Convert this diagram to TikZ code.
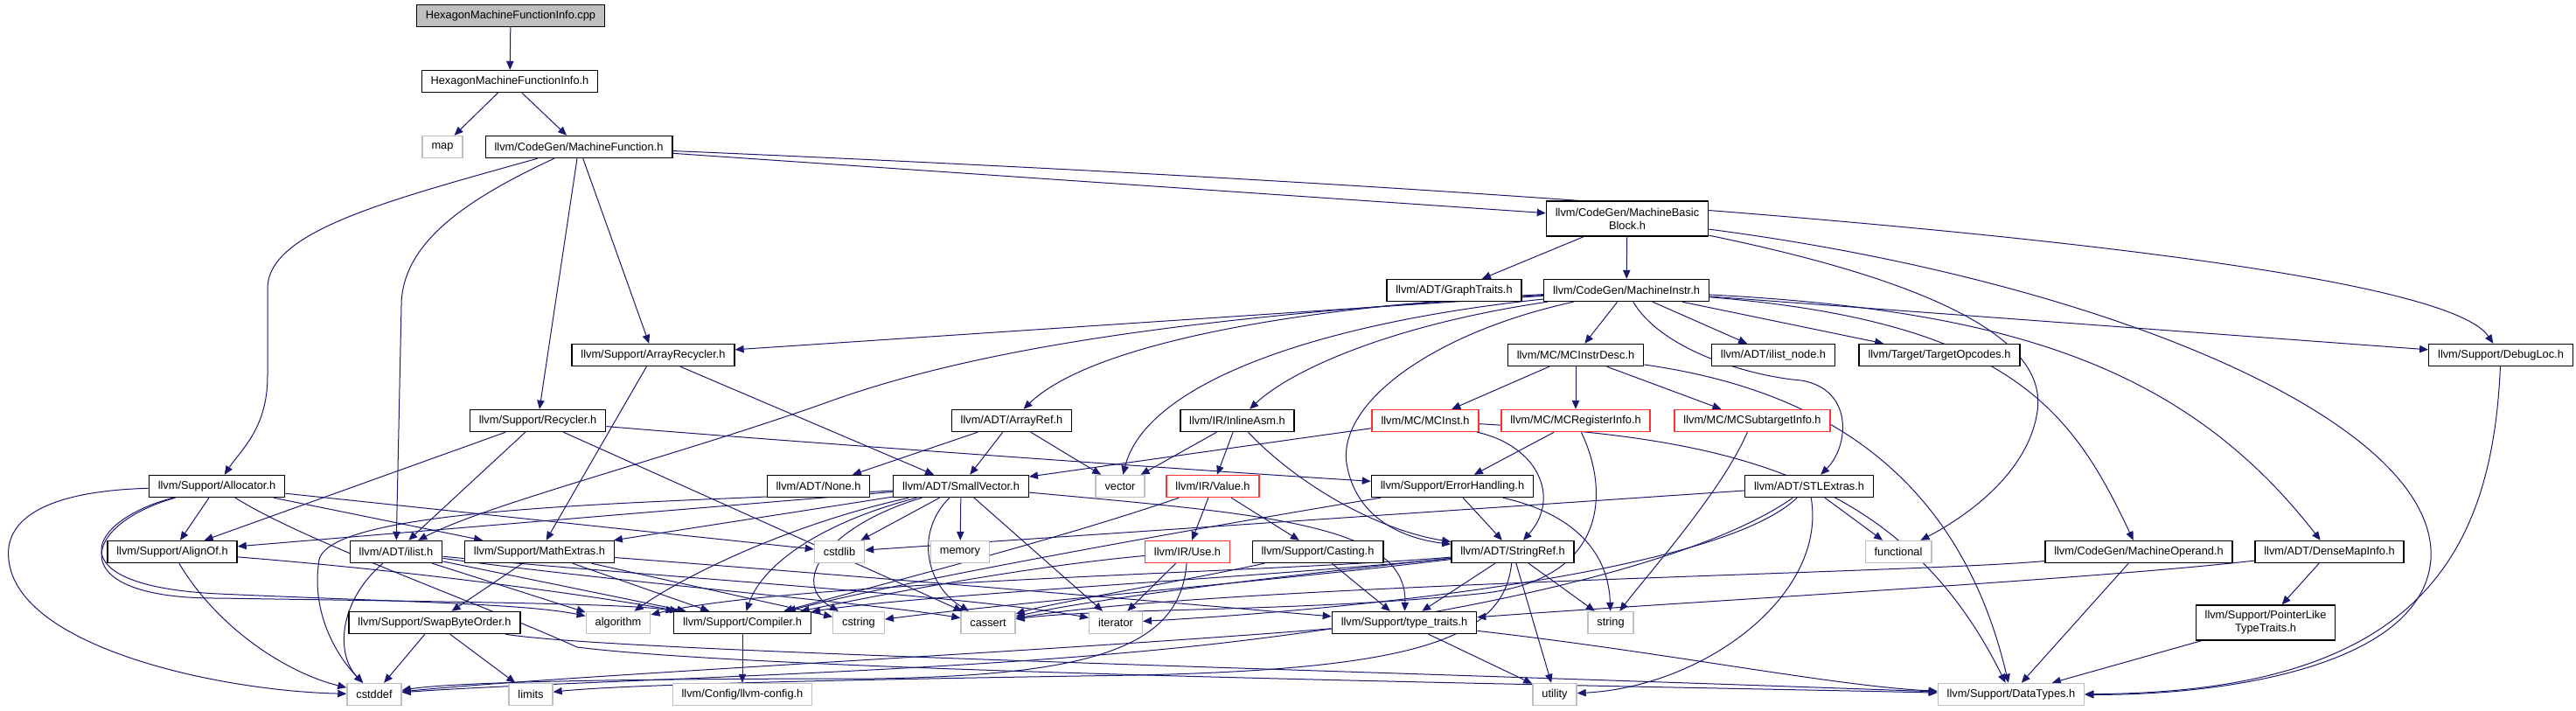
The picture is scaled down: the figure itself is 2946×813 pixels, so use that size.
\documentclass[tikz,border=0pt]{standalone}
\usepackage{fontspec}
\setmainfont{Liberation Sans}
\usetikzlibrary{arrows.meta,backgrounds}
\definecolor{edgeblue}{RGB}{25,25,112}
\definecolor{boxgray}{RGB}{191,191,191}
\definecolor{truncred}{RGB}{255,50,50}
\begin{document}
\begin{tikzpicture}[
    x=0.5pt, y=-0.5pt,
    every node/.style={font=\fontsize{6.4pt}{7.5pt}\selectfont, inner xsep=5.2pt, inner ysep=0pt, minimum height=12.5pt, align=center},
    file/.style={rectangle, draw=black, fill=white, line width=0.7pt},
    sysfile/.style={rectangle, draw=boxgray, fill=white, line width=0.7pt},
    trunc/.style={rectangle, draw=truncred, fill=white, line width=0.7pt},
    root/.style={rectangle, draw=black, fill=boxgray, line width=0.7pt},
    twoline/.style={minimum height=20pt},
    inc/.style={draw=edgeblue, line width=0.5pt, -{Triangle[length=5pt,width=4.2pt]}}
]
\useasboundingbox (0,0) rectangle (2946,813);

% files
\node[root] (cpp) at (584,18) {HexagonMachineFunctionInfo.cpp};
\node[file] (hexh) at (583,93) {HexagonMachineFunctionInfo.h};
\node[sysfile] (map) at (506,168) {map};
\node[file] (mfunc) at (662,168) {llvm/CodeGen/MachineFunction.h};
\node[file, twoline] (mbb) at (1861,250) {llvm/CodeGen/MachineBasic\\Block.h};
\node[file] (graphtr) at (1663,332) {llvm/ADT/GraphTraits.h};
\node[file] (minstr) at (1860,332) {llvm/CodeGen/MachineInstr.h};
\node[file] (arecyc) at (747,406) {llvm/Support/ArrayRecycler.h};
\node[file] (mcdesc) at (1802,406) {llvm/MC/MCInstrDesc.h};
\node[file] (ilnode) at (2028,406) {llvm/ADT/ilist\_node.h};
\node[file] (topc) at (2218,406) {llvm/Target/TargetOpcodes.h};
\node[file] (dloc) at (2860,406) {llvm/Support/DebugLoc.h};
\node[file] (recyc) at (615,481) {llvm/Support/Recycler.h};
\node[file] (aref) at (1157,481) {llvm/ADT/ArrayRef.h};
\node[file] (inasm) at (1415,481) {llvm/IR/InlineAsm.h};
\node[trunc] (mcinst) at (1630,481) {llvm/MC/MCInst.h};
\node[trunc] (mcreg) at (1802,481) {llvm/MC/MCRegisterInfo.h};
\node[trunc] (mcsub) at (2004,481) {llvm/MC/MCSubtargetInfo.h};
\node[file] (alloc) at (248,556) {llvm/Support/Allocator.h};
\node[file] (none) at (936,556) {llvm/ADT/None.h};
\node[file] (svec) at (1099,556) {llvm/ADT/SmallVector.h};
\node[sysfile] (vector) at (1281,556) {vector};
\node[trunc] (value) at (1387,556) {llvm/IR/Value.h};
\node[file] (errh) at (1661,556) {llvm/Support/ErrorHandling.h};
\node[file] (stlx) at (2069,556) {llvm/ADT/STLExtras.h};
\node[file] (alignof) at (197,631) {llvm/Support/AlignOf.h};
\node[file] (ilist) at (453,631) {llvm/ADT/ilist.h};
\node[file] (mathx) at (617,631) {llvm/Support/MathExtras.h};
\node[sysfile] (cstdlib) at (960,631) {cstdlib};
\node[sysfile] (memory) at (1098,631) {memory};
\node[trunc] (use) at (1358,631) {llvm/IR/Use.h};
\node[file] (casting) at (1507,631) {llvm/Support/Casting.h};
\node[file] (sref) at (1730,631) {llvm/ADT/StringRef.h};
\node[sysfile] (functional) at (2171,631) {functional};
\node[file] (moper) at (2446,631) {llvm/CodeGen/MachineOperand.h};
\node[file] (dmi) at (2664,631) {llvm/ADT/DenseMapInfo.h};
\node[file] (swap) at (497,712) {llvm/Support/SwapByteOrder.h};
\node[sysfile] (algorithm) at (707,712) {algorithm};
\node[file] (compiler) at (849,712) {llvm/Support/Compiler.h};
\node[sysfile] (cstring) at (982,712) {cstring};
\node[sysfile] (cassert) at (1130,712) {cassert};
\node[sysfile] (iterator) at (1276,712) {iterator};
\node[file] (ttraits) at (1606,712) {llvm/Support/type\_traits.h};
\node[sysfile] (string) at (1842,712) {string};
\node[file, twoline] (pltt) at (2591,712) {llvm/Support/PointerLike\\TypeTraits.h};
\node[sysfile] (cstddef) at (428,794) {cstddef};
\node[sysfile] (limits) at (607,794) {limits};
\node[sysfile] (llvmcfg) at (849,794) {llvm/Config/llvm-config.h};
\node[sysfile] (utility) at (1778,794) {utility};
\node[sysfile] (dtypes) at (2300,794) {llvm/Support/DataTypes.h};

\begin{pgfonlayer}{background}
% top
\draw[inc] (cpp) -- (hexh);
\draw[inc] (hexh) -- (map);
\draw[inc] (hexh) -- (mfunc);
% MachineFunction.h
\draw[inc] (mfunc) .. controls (440,230) and (306,265) .. (306,330) -- (306,430) .. controls (306,490) and (275,515) .. (alloc);
\draw[inc] (mfunc) .. controls (540,225) and (459,275) .. (459,350) -- (ilist);
\draw[inc] (mfunc) -- (recyc);
\draw[inc] (mfunc) -- (arecyc);
\draw[inc] (mfunc) -- (mbb);
\draw[inc] (mfunc) .. controls (2000,225) and (2790,300) .. (dloc);
% MachineBasicBlock.h
\draw[inc] (mbb) -- (graphtr);
\draw[inc] (mbb) -- (minstr);
\draw[inc] (mbb) .. controls (2250,330) and (2340,400) .. (2330,470) .. controls (2320,540) and (2250,590) .. (functional);
\draw[inc] (mbb) .. controls (2400,320) and (2790,480) .. (2780,640) .. controls (2770,760) and (2550,795) .. (dtypes);
% MachineInstr.h
\draw[inc] (minstr) -- (arecyc);
\draw[inc] (minstr) .. controls (1350,362) and (1120,400) .. (960,455) .. controls (780,520) and (560,575) .. (ilist);
\draw[inc] (minstr) .. controls (1450,352) and (1240,400) .. (aref);
\draw[inc] (minstr) .. controls (1500,370) and (1310,440) .. (vector);
\draw[inc] (minstr) .. controls (1600,370) and (1480,420) .. (inasm);
\draw[inc] (minstr) .. controls (1640,380) and (1530,460) .. (1540,530) .. controls (1550,590) and (1600,615) .. (sref);
\draw[inc] (minstr) -- (mcdesc);
\draw[inc] (minstr) -- (ilnode);
\draw[inc] (minstr) -- (topc);
\draw[inc] (minstr) -- (dloc);
\draw[inc] (minstr) .. controls (1900,400) and (2000,430) .. (2060,435) .. controls (2120,445) and (2115,510) .. (stlx);
\draw[inc] (minstr) .. controls (2300,368) and (2370,470) .. (moper);
\draw[inc] (minstr) .. controls (2300,355) and (2500,420) .. (dmi);
% MCInstrDesc.h
\draw[inc] (mcdesc) -- (mcinst);
\draw[inc] (mcdesc) -- (mcreg);
\draw[inc] (mcdesc) -- (mcsub);
\draw[inc] (mcdesc) .. controls (2080,445) and (2240,540) .. (dtypes);
% MC headers
\draw[inc] (mcinst) -- (svec);
\draw[inc] (mcinst) .. controls (1760,510) and (1785,570) .. (sref);
\draw[inc] (mcinst) .. controls (1950,500) and (2170,530) .. (dtypes);
\draw[inc] (mcreg) -- (errh);
\draw[inc] (mcreg) .. controls (1840,560) and (1840,660) .. (1700,678) .. controls (1500,700) and (1260,695) .. (cassert);
\draw[inc] (mcsub) .. controls (1970,560) and (1890,650) .. (string);
% ArrayRecycler.h, Recycler.h
\draw[inc] (arecyc) -- (svec);
\draw[inc] (arecyc) -- (mathx);
\draw[inc] (recyc) -- (alignof);
\draw[inc] (recyc) -- (ilist);
\draw[inc] (recyc) .. controls (900,505) and (1400,540) .. (errh);
\draw[inc] (recyc) -- (cassert);
% ArrayRef.h, InlineAsm.h
\draw[inc] (aref) -- (none);
\draw[inc] (aref) -- (svec);
\draw[inc] (aref) -- (vector);
\draw[inc] (inasm) -- (vector);
\draw[inc] (inasm) -- (value);
\draw[inc] (inasm) .. controls (1480,550) and (1570,605) .. (sref);
% Allocator.h
\draw[inc] (alloc) -- (alignof);
\draw[inc] (alloc) -- (mathx);
\draw[inc] (alloc) -- (cstdlib);
\draw[inc] (alloc) .. controls (40,562) and (5,600) .. (10,640) .. controls (20,740) and (250,790) .. (cstddef);
\draw[inc] (alloc) .. controls (100,595) and (60,670) .. (250,679) .. controls (450,688) and (600,690) .. (algorithm);
\draw[inc] (alloc) .. controls (90,600) and (70,685) .. (250,684) .. controls (500,688) and (720,690) .. (compiler);
\draw[inc] (alloc) .. controls (350,620) and (550,690) .. (660,740) .. controls (900,770) and (1900,785) .. (dtypes);
% AlignOf.h, ilist.h
\draw[inc] (alignof) .. controls (250,720) and (330,770) .. (cstddef);
\draw[inc] (alignof) .. controls (500,655) and (700,685) .. (compiler);
\draw[inc] (ilist) .. controls (385,690) and (385,750) .. (cstddef);
\draw[inc] (ilist) -- (algorithm);
\draw[inc] (ilist) -- (compiler);
\draw[inc] (ilist) .. controls (700,665) and (1000,690) .. (cassert);
\draw[inc] (ilist) .. controls (750,660) and (1100,680) .. (iterator);
% MathExtras.h
\draw[inc] (mathx) -- (swap);
\draw[inc] (mathx) -- (compiler);
\draw[inc] (mathx) -- (cstring);
\draw[inc] (mathx) .. controls (1000,660) and (1350,690) .. (ttraits);
% SmallVector.h
\draw[inc] (svec) -- (alignof);
\draw[inc] (svec) -- (mathx);
\draw[inc] (svec) -- (cstdlib);
\draw[inc] (svec) -- (memory);
\draw[inc] (svec) -- (iterator);
\draw[inc] (svec) .. controls (1045,610) and (1060,670) .. (cassert);
\draw[inc] (svec) .. controls (950,600) and (900,665) .. (cstring);
\draw[inc] (svec) .. controls (900,600) and (780,660) .. (algorithm);
\draw[inc] (svec) .. controls (930,600) and (870,650) .. (compiler);
\draw[inc] (svec) .. controls (800,575) and (380,575) .. (365,640) .. controls (355,700) and (385,750) .. (cstddef);
\draw[inc] (svec) .. controls (1450,588) and (1610,600) .. (ttraits);
% Value.h, Use.h, Casting.h
\draw[inc] (value) -- (use);
\draw[inc] (value) -- (casting);
\draw[inc] (value) .. controls (1200,620) and (1000,670) .. (compiler);
\draw[inc] (use) -- (iterator);
\draw[inc] (use) .. controls (1150,650) and (960,690) .. (compiler);
\draw[inc] (use) .. controls (1350,740) and (1250,772) .. (1000,776) .. controls (700,776) and (520,780) .. (cstddef);
\draw[inc] (casting) -- (ttraits);
\draw[inc] (casting) .. controls (1350,665) and (1200,690) .. (cassert);
% ErrorHandling.h
\draw[inc] (errh) -- (sref);
\draw[inc] (errh) .. controls (1810,590) and (1840,640) .. (string);
\draw[inc] (errh) .. controls (1450,590) and (1050,660) .. (compiler);
% StringRef.h
\draw[inc] (sref) -- (ttraits);
\draw[inc] (sref) -- (string);
\draw[inc] (sref) -- (utility);
\draw[inc] (sref) .. controls (1450,655) and (900,665) .. (algorithm);
\draw[inc] (sref) .. controls (1450,660) and (1250,685) .. (cassert);
\draw[inc] (sref) .. controls (1450,665) and (1150,690) .. (cstring);
\draw[inc] (sref) .. controls (1450,660) and (1050,680) .. (compiler);
\draw[inc] (sref) .. controls (1720,730) and (1620,765) .. (1300,772) .. controls (900,778) and (700,784) .. (limits);
% type_traits.h
\draw[inc] (ttraits) -- (utility);
\draw[inc] (ttraits) .. controls (1900,745) and (2100,785) .. (dtypes);
\draw[inc] (ttraits) .. controls (1200,745) and (650,772) .. (cstddef);
% STLExtras.h
\draw[inc] (stlx) -- (cstdlib);
\draw[inc] (stlx) -- (functional);
\draw[inc] (stlx) .. controls (1960,660) and (1500,700) .. (iterator);
\draw[inc] (stlx) .. controls (1950,640) and (1700,700) .. (1400,735) .. controls (1100,770) and (650,778) .. (cstddef);
\draw[inc] (stlx) .. controls (2090,680) and (1950,785) .. (utility);
% right side
\draw[inc] (moper) -- (dtypes);
\draw[inc] (moper) .. controls (2200,655) and (1400,668) .. (cassert);
\draw[inc] (dmi) -- (pltt);
\draw[inc] (dmi) .. controls (2400,662) and (1900,690) .. (ttraits);
\draw[inc] (pltt) -- (dtypes);
\draw[inc] (dloc) .. controls (2850,640) and (2760,792) .. (dtypes);
% SwapByteOrder.h, Compiler.h
\draw[inc] (swap) -- (cstddef);
\draw[inc] (swap) -- (limits);
\draw[inc] (swap) .. controls (700,745) and (1500,765) .. (dtypes);
\draw[inc] (compiler) -- (llvmcfg);
\end{pgfonlayer}
\end{tikzpicture}
\end{document}
